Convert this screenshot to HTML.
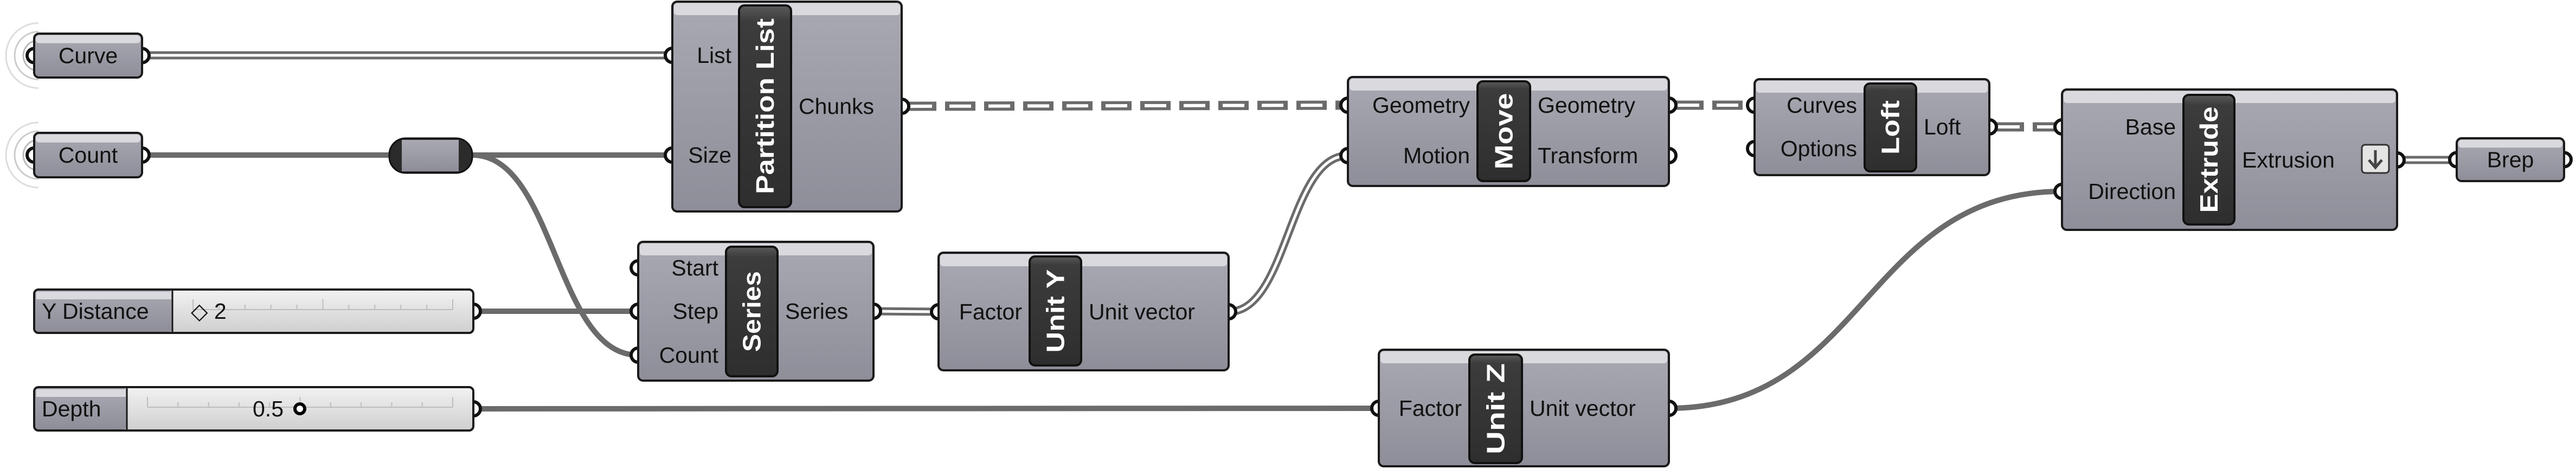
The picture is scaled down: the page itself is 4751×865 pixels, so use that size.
<!DOCTYPE html>
<html><head><meta charset="utf-8"><title>Grasshopper definition</title>
<style>html,body{margin:0;padding:0;background:#fff;}svg{display:block;}text{font-family:"Liberation Sans",sans-serif;}</style>
</head><body>
<svg id="cv" width="4751" height="865" viewBox="0 0 4751 865" xmlns="http://www.w3.org/2000/svg">
<defs>
<linearGradient id="body" x1="0" y1="0" x2="0" y2="1"><stop offset="0" stop-color="#a9a9b3"/><stop offset="1" stop-color="#8e8e99"/></linearGradient>
<linearGradient id="title" x1="0" y1="0" x2="0" y2="1"><stop offset="0" stop-color="#5a5a5a"/><stop offset="0.08" stop-color="#3c3c3c"/><stop offset="1" stop-color="#2e2e2e"/></linearGradient>
<linearGradient id="rail" x1="0" y1="0" x2="0" y2="1"><stop offset="0" stop-color="#f2f2f2"/><stop offset="1" stop-color="#cfcfcf"/></linearGradient>
</defs>
<g id="wires"></g>
<g id="comps"></g>
</svg>
<script>
var NS='http://www.w3.org/2000/svg';
var wiresG=document.getElementById('wires'), compsG=document.getElementById('comps');
function mk(tag,attrs,parent){var e=document.createElementNS(NS,tag);for(var k in attrs)e.setAttribute(k,attrs[k]);if(parent)parent.appendChild(e);return e;}
var FS=41;

var compNames=['partition-list','series','move','unit-y','unit-z','loft','extrude'];
var compTitles=['Partition List','Series','Move','Unit Y','Unit Z','Loft','Extrude'];
var compBoxes=[[1240,3,423,387],[1177,446,434,256],[2486,142,592,201],[1731,466,535,217],[2543,645,535,215],[3236,146,433,177],[3803,165,618,259]];
var compTitleBoxes=[[1363,10,96,372],[1339,455,95,239],[2725,150,97,184],[1899,473,95,201],[2710,654,97,200],[3439,154,95,162],[4027,175,94,239]];
var compTitleLen=[324,149,141,154,168,100,196];
var compInputs=[[['List',102],['Size',286]],[['Start',494],['Step',574],['Count',655]],[['Geometry',194],['Motion',287]],[['Factor',575]],[['Factor',753]],[['Curves',194],['Options',274]],[['Base',234],['Direction',353]]];
var compOutputs=[[['Chunks',196]],[['Series',574]],[['Geometry',194],['Transform',287]],[['Unit vector',575]],[['Unit vector',753]],[['Loft',234]],[['Extrusion',295]]];

var params=[['Curve',63,62,199,81,true],['Count',63,245,199,82,true],['Brep',4531,255,198,79,false]];

var wires=[['double',262,102,1240,102],['single',262,286,718,286],['single',871,286,1240,286],['single',871,286,1177,655],
['single',873,574,1177,574],['tree',1663,196,2486,194],['double',1611,574,1731,575],['double',2266,575,2486,287],
['tree',3078,194,3236,194],['tree',3669,234,3803,234],['single',873,754,2543,753],['single',3078,753,3803,353],['double',4421,295,4531,295]];

function pathD(w){var x1=w[1],y1=w[2],x2=w[3],y2=w[4];if(Math.abs(y1-y2)<3)return 'M'+x1+' '+y1+' L'+x2+' '+y2;var d=(x2-x1)*0.5;return 'M'+x1+' '+y1+' C'+(x1+d)+' '+y1+' '+(x2-d)+' '+y2+' '+x2+' '+y2;}
wires.forEach(function(w,i){
  var g=mk('g',{},wiresG);
  
  
  var d=pathD(w);
  if(w[0]==='single'){mk('path',{d:d,fill:'none',stroke:'#6b6b6b','stroke-width':10},g);}
  else if(w[0]==='double'){mk('path',{d:d,fill:'none',stroke:'#6b6b6b','stroke-width':15},g);mk('path',{d:d,fill:'none',stroke:'#ffffff','stroke-width':5},g);}
  else {mk('path',{d:d,fill:'none',stroke:'#6b6b6b','stroke-width':17,'stroke-dasharray':'56 16','stroke-dashoffset':'-8'},g);
        mk('path',{d:d,fill:'none',stroke:'#ffffff','stroke-width':6,'stroke-dasharray':'40 32','stroke-dashoffset':'-16'},g);}
});

function grip(g,x,y,side){var r=13;var p=side<0?'M'+x+' '+(y-r)+' A'+r+' '+r+' 0 0 0 '+x+' '+(y+r):'M'+x+' '+(y-r)+' A'+r+' '+r+' 0 0 1 '+x+' '+(y+r);
  mk('path',{d:p,fill:'#fff',stroke:'#111','stroke-width':6},g);}
function bodyRect(g,x,y,w,h){mk('rect',{x:x,y:y,width:w,height:h,rx:9,fill:'url(#body)',stroke:'#1a1a1a','stroke-width':4},g);
  mk('rect',{x:x+3,y:y+3,width:w-6,height:Math.min(22,h*0.18),rx:6,fill:'#d9d9de'},g);}
function label(g,txt,x,y,anchor){var t=mk('text',{x:x,y:y+14,'font-size':FS,fill:'#111','text-anchor':anchor},g);t.textContent=txt;return t;}

compNames.forEach(function(n,i){
  var b=compBoxes[i],tb=compTitleBoxes[i];
  var g=mk('g',{},compsG);
  
  
  compInputs[i].forEach(function(p){grip(g,b[0],p[1],-1);});
  compOutputs[i].forEach(function(p){grip(g,b[0]+b[2],p[1],1);});
  bodyRect(g,b[0],b[1],b[2],b[3]);
  mk('rect',{x:tb[0],y:tb[1],width:tb[2],height:tb[3],rx:10,fill:'url(#title)',stroke:'#111','stroke-width':4},g);
  var cx=tb[0]+tb[2]/2,cy=tb[1]+tb[3]/2;
  var t=mk('text',{x:cx,y:cy+16,'font-size':46,'font-weight':'bold',fill:'#fff','text-anchor':'middle',transform:'rotate(-90 '+cx+' '+cy+')',textLength:compTitleLen[i],lengthAdjust:'spacingAndGlyphs'},g);
  t.textContent=compTitles[i];
  
  
  compInputs[i].forEach(function(p){var l=label(g,p[0],tb[0]-14,p[1],'end');
    
    });
  compOutputs[i].forEach(function(p){var l=label(g,p[0],tb[0]+tb[2]+14,p[1],'start');
    
    });
  if(n==='extrude'){var ic=mk('g',{},g);
    
    
    mk('rect',{x:4356,y:267,width:50,height:52,rx:6,fill:'#e4e4e4',stroke:'#333','stroke-width':3},ic);
    mk('path',{d:'M4381 277 L4381 307 M4369 295 L4381 309 L4393 295',fill:'none',stroke:'#444','stroke-width':5},ic);}
});

var rg=mk('g',{},compsG);


mk('rect',{x:718,y:255,width:153,height:64,rx:30,fill:'#2b2b2b',stroke:'#111','stroke-width':3},rg);
mk('rect',{x:741,y:258,width:105,height:58,fill:'url(#body)'},rg);

params.forEach(function(p){
  var g=mk('g',{},compsG);
  
  
  var cy=p[2]+p[4]/2;
  if(p[5]){[28,44,60].forEach(function(r,k){mk('path',{d:'M'+(p[1]+8)+' '+(cy-r)+' A'+r+' '+r+' 0 0 0 '+(p[1]+8)+' '+(cy+r),fill:'none',stroke:'#bbb','stroke-width':3,opacity:1-k*0.25},g);});}
  grip(g,p[1],cy,-1);grip(g,p[1]+p[3],cy,1);
  bodyRect(g,p[1],p[2],p[3],p[4]);
  var t=mk('text',{x:p[1]+p[3]/2,y:cy+14,'font-size':FS,fill:'#111','text-anchor':'middle'},g);t.textContent=p[0];
});

var sliders=[['Y Distance',534,318,'\u25C7 2',352,'y-distance'],['Depth',714,234,'0.5',466,'depth']];
sliders.forEach(function(s){
  var g=mk('g',{},compsG);
  
  
  var x=63,y=s[1],w=810,h=80,cy=y+h/2;
  grip(g,x+w,cy,1);
  mk('rect',{x:x,y:y,width:w,height:h,rx:8,fill:'url(#rail)',stroke:'#1a1a1a','stroke-width':4},g);
  mk('rect',{x:x+2,y:y+2,width:s[2]-x-2,height:h-4,rx:6,fill:'url(#body)'},g);
  mk('rect',{x:x+4,y:y+4,width:s[2]-x-6,height:14,fill:'#d9d9de'},g);
  mk('line',{x1:s[2],y1:y,x2:s[2],y2:y+h,stroke:'#1a1a1a','stroke-width':3},g);
  var t=mk('text',{x:x+14,y:cy+14,'font-size':FS,fill:'#111'},g);t.textContent=s[0];
  var r0=s[2]+38,r1=835;
  mk('line',{x1:r0,y1:cy-3,x2:r1,y2:cy-3,stroke:'#bdbdbd','stroke-width':2},g);
  for(var k=0;k<=10;k++){var tx=r0+(r1-r0)*k/10;mk('line',{x1:tx,y1:cy-(k%5===0?22:12),x2:tx,y2:cy-3,stroke:'#bdbdbd','stroke-width':2},g);}
  var vt=mk('text',{x:s[4],y:cy+14,'font-size':FS,fill:'#111'},g);vt.textContent=s[3];
  
  
  if(s[5]==='depth'){mk('circle',{cx:553,cy:cy,r:9,fill:'#fff',stroke:'#000','stroke-width':6},g);}
});
</script>
</body></html>
